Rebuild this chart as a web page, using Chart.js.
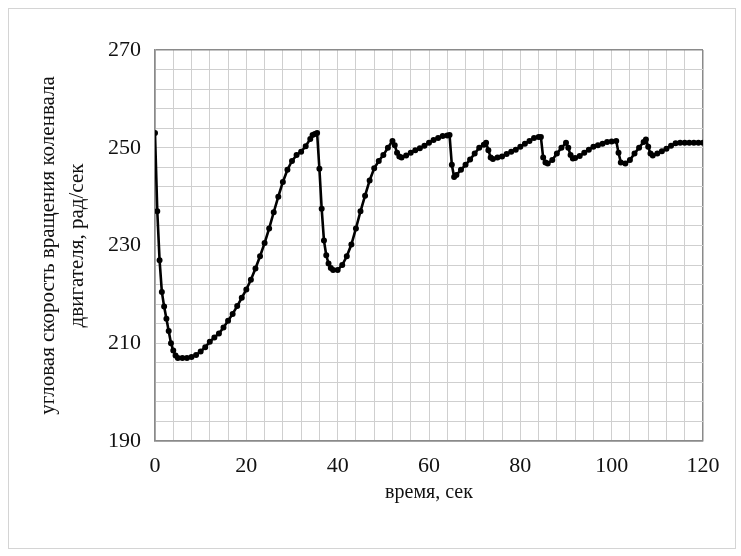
<!DOCTYPE html>
<html>
<head>
<meta charset="utf-8">
<script src="https://cdn.jsdelivr.net/npm/chart.js@4.4.1/dist/chart.umd.min.js"></script>
<style>
  html, body { margin: 0; padding: 0; background: #fff; }
  #frame {
    position: absolute; left: 8px; top: 8px;
    width: 728px; height: 541px; box-sizing: border-box;
    border: 1px solid #d4d4d4;
  }
  #chart { display: block; }
</style>
</head>
<body>
<div id="frame"><canvas id="chart" width="726" height="539"></canvas></div>
<script>
// время, сек
const timeSec = [
  0, 0.5, 1, 1.5, 2, 2.5, 3, 3.5, 4, 4.5, 5, 6, 7, 8, 9,
  10, 11, 12, 13, 14, 15, 16, 17, 18, 19, 20, 21, 22, 23, 24,
  25, 26, 27, 28, 29, 30, 31, 32, 33, 34, 34.5, 35, 35.5, 36, 36.5,
  37, 37.5, 38, 38.5, 39, 40, 41, 42, 43, 44, 45, 46, 47, 48, 49,
  50, 51, 52, 52.5, 53, 53.5, 54, 55, 56, 57, 58, 59, 60, 61, 62,
  63, 64, 64.5, 65, 65.5, 66, 67, 68, 69, 70, 71, 72, 72.5, 73, 73.5,
  74, 75, 76, 77, 78, 79, 80, 81, 82, 83, 84, 84.5, 85, 85.5, 86,
  87, 88, 89, 90, 90.5, 91, 91.5, 92, 93, 94, 95, 96, 97, 98, 99,
  100, 101, 101.5, 102, 103, 104, 105, 106, 107, 107.5, 108, 108.5, 109, 110, 111,
  112, 113, 114, 115, 116, 117, 118, 119, 120
];
// угловая скорость, рад/сек
const speed = [
  253, 237, 227, 220.5, 217.5, 215, 212.5, 210, 208.5, 207.5, 207, 207, 207, 207.2, 207.6,
  208.3, 209.2, 210.3, 211.2, 212, 213.2, 214.6, 216, 217.6, 219.3, 221, 223, 225.3, 227.8, 230.5,
  233.5, 236.8, 240, 243, 245.5, 247.3, 248.5, 249.2, 250.3, 251.8, 252.6, 252.8, 253, 245.7, 237.5,
  231, 228, 226.3, 225.4, 225, 225, 226, 227.8, 230.2, 233.5, 237, 240.2, 243.3, 245.8, 247.3,
  248.5, 250, 251.4, 250.5, 249, 248.2, 248, 248.4, 249, 249.5, 249.9, 250.4, 251, 251.6, 252,
  252.4, 252.5, 252.6, 246.5, 244, 244.4, 245.5, 246.5, 247.6, 248.8, 250, 250.6, 251, 249.5, 248,
  247.7, 248, 248.2, 248.7, 249.2, 249.6, 250.2, 250.8, 251.4, 252, 252.2, 252.2, 248, 247, 246.8,
  247.5, 248.8, 250, 251, 250, 248.5, 247.8, 247.9, 248.3, 249, 249.6, 250.2, 250.5, 250.8, 251.2,
  251.3, 251.4, 249, 247, 246.8, 247.5, 248.8, 250, 251.2, 251.7, 250.2, 248.8, 248.4, 248.8, 249.3,
  249.8, 250.4, 250.9, 251, 251, 251, 251, 251, 251
];
const xTickLabels = [0, 20, 40, 60, 80, 100, 120];
const yTickLabels = [190, 210, 230, 250, 270];
const xGridStep = 4;
const yGridStep = 4;

const points = timeSec.map((t, i) => ({ x: t, y: speed[i] }));

const serif = "'Liberation Serif', 'Times New Roman', serif";
const edge = "#8a8a8a";
const gridCol = "#cfcfcf";

// every grid line, labels only on the major ones
function gridTicks(min, max, step) {
  const out = [];
  for (let v = min; v <= max + 1e-9; v += step) out.push({ value: v });
  return out;
}

new Chart(document.getElementById("chart"), {
  type: "scatter",
  data: {
    datasets: [{
      data: points,
      showLine: true,
      borderColor: "#000",
      backgroundColor: "#000",
      borderWidth: 2.6,
      pointRadius: 1.7,
      pointHoverRadius: 1.7,
      tension: 0
    }]
  },
  options: {
    responsive: false,
    animation: false,
    layout: { padding: { top: 41, right: 32, left: 0, bottom: 0 } },
    plugins: { legend: { display: false }, tooltip: { enabled: false } },
    scales: {
      x: {
        type: "linear", min: 0, max: 120,
        afterBuildTicks: s => { s.ticks = gridTicks(0, 120, xGridStep); },
        afterFit: s => { s.height = 107; },
        border: { display: true, color: edge, width: 1.5 },
        grid: {
          drawTicks: false,
          color: c => (c.tick && (c.tick.value === 0 || c.tick.value === 120)) ? edge : gridCol,
          lineWidth: c => (c.tick && (c.tick.value === 0 || c.tick.value === 120)) ? 1.5 : 1
        },
        ticks: {
          autoSkip: false, maxRotation: 0,
          padding: 12, color: "#111",
          font: { family: serif, size: 22 },
          callback: v => xTickLabels.includes(v) ? String(v) : ""
        },
        title: {
          display: true, text: "время, сек", color: "#111",
          font: { family: serif, size: 20, lineHeight: 1.2 },
          padding: { top: 0, bottom: 43 }
        }
      },
      y: {
        min: 190, max: 270,
        afterBuildTicks: s => { s.ticks = gridTicks(190, 270, yGridStep); },
        afterFit: s => { s.width = 146; },
        border: { display: true, color: edge, width: 1.5 },
        grid: {
          drawTicks: false,
          color: c => (c.tick && (c.tick.value === 190 || c.tick.value === 270)) ? edge : gridCol,
          lineWidth: c => (c.tick && (c.tick.value === 190 || c.tick.value === 270)) ? 1.5 : 1
        },
        ticks: {
          autoSkip: false, padding: 14, color: "#111",
          font: { family: serif, size: 22 },
          callback: v => yTickLabels.includes(v) ? String(v) : ""
        },
        title: {
          display: true,
          text: ["угловая скорость вращения коленвала", "двигателя, рад/сек"],
          color: "#111",
          font: { family: serif, size: 21, lineHeight: 1.38 },
          padding: { top: 25, bottom: 0 }
        }
      }
    }
  }
});
</script>
</body>
</html>
